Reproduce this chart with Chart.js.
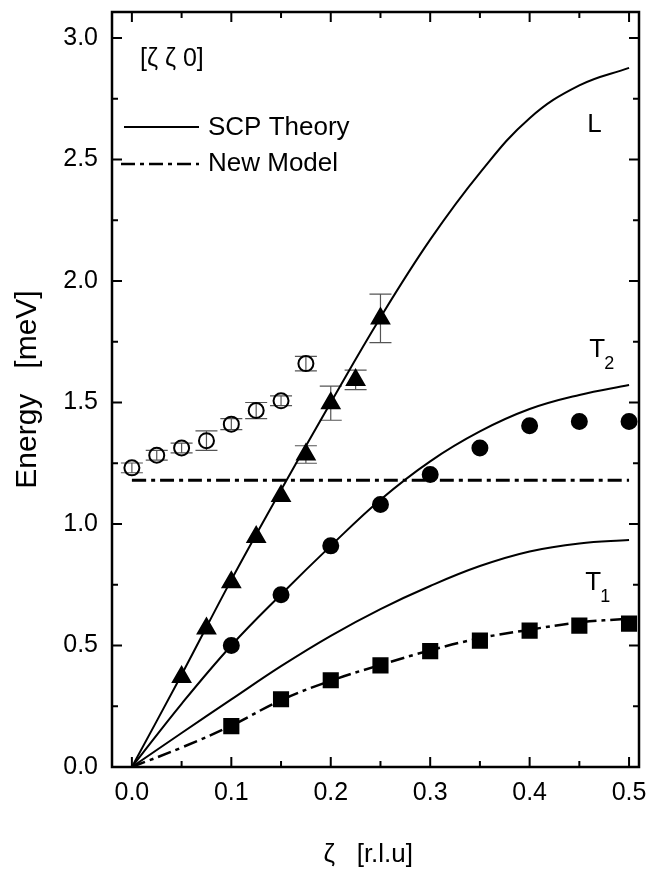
<!DOCTYPE html>
<html>
<head>
<meta charset="utf-8">
<script src="https://cdn.jsdelivr.net/npm/chart.js@4.4.0/dist/chart.umd.min.js"></script>
<style>
html, body { margin: 0; padding: 0; background: #fff; }
#wrap { width: 660px; height: 880px; position: relative; }
</style>
</head>
<body>
<div id="wrap"><canvas id="chart"></canvas></div>
<script>
// Theory curves (zeta in r.l.u, energy in meV)
const curveX = [0, 0.05, 0.1, 0.15, 0.2, 0.25, 0.3, 0.35, 0.4, 0.45, 0.5];
const scpL = [0, 0.38, 0.77, 1.14, 1.50, 1.85, 2.17, 2.445, 2.67, 2.805, 2.877];
const scpT2 = [0, 0.26, 0.50, 0.71, 0.91, 1.10, 1.258, 1.381, 1.473, 1.531, 1.572];
const scpT1 = [0, 0.14, 0.278, 0.415, 0.54, 0.65, 0.745, 0.827, 0.887, 0.92, 0.934];
const newT1 = [0, 0.08, 0.17, 0.275, 0.355, 0.42, 0.48, 0.53, 0.565, 0.595, 0.61];
const flatX = [0, 0.5];
const flatY = [1.18, 1.18];

// Measured points
const openX = [0, 0.025, 0.05, 0.075, 0.1, 0.125, 0.15, 0.175];
const openY = [1.231, 1.283, 1.313, 1.343, 1.411, 1.467, 1.507, 1.66];
const openErr = [0.02, 0.02, 0.02, 0.04, 0.023, 0.033, 0.02, 0.03];

const triX = [0.05, 0.075, 0.1, 0.125, 0.15, 0.175, 0.2, 0.225, 0.25];
const triY = [0.37, 0.57, 0.76, 0.947, 1.115, 1.286, 1.497, 1.593, 1.846];
const triErr = [0, 0, 0, 0, 0, 0.036, 0.07, 0.04, 0.1];

const dotX = [0.1, 0.15, 0.2, 0.25, 0.3, 0.35, 0.4, 0.45, 0.5];
const dotY = [0.5, 0.709, 0.91, 1.08, 1.204, 1.313, 1.404, 1.422, 1.422];

const sqX = [0.1, 0.15, 0.2, 0.25, 0.3, 0.35, 0.4, 0.45, 0.5];
const sqY = [0.168, 0.279, 0.357, 0.418, 0.477, 0.52, 0.561, 0.582, 0.59];

// Axis ticks
const xTicks = [0, 0.1, 0.2, 0.3, 0.4, 0.5];
const xMinor = [0.05, 0.15, 0.25, 0.35, 0.45];
const yTicks = [0, 0.5, 1.0, 1.5, 2.0, 2.5, 3.0];
const yMinor = [0.25, 0.75, 1.25, 1.75, 2.25, 2.75];

const FONT = "'Liberation Sans', Arial, sans-serif";
const dashDot = [14, 5, 4, 5];

function pts(xs, ys) {
    return xs.map((x, i) => ({ x: x, y: ys[i] }));
}

function curve(xs, ys, dash, width) {
    return {
        data: pts(xs, ys),
        showLine: true,
        borderColor: '#000',
        borderWidth: width,
        borderDash: dash,
        pointRadius: 0,
        tension: 0.4,
        fill: false
    };
}

function marks(xs, ys, style, radius, filled) {
    return {
        data: pts(xs, ys),
        showLine: false,
        pointStyle: style,
        pointRadius: radius,
        pointBorderWidth: 2,
        pointBorderColor: '#000',
        pointBackgroundColor: filled ? '#000' : 'rgba(0,0,0,0)'
    };
}

// Error bars, frame with inward ticks, legend and branch labels
const extras = {
    id: 'extras',
    beforeDatasetsDraw(chart) {
        const c = chart.ctx, xs = chart.scales.x, ys = chart.scales.y;
        c.save();
        c.strokeStyle = '#555';
        c.lineWidth = 1.2;
        const bars = (X, Y, E) => X.forEach((x, i) => {
            if (!E[i]) return;
            const px = xs.getPixelForValue(x);
            const top = ys.getPixelForValue(Y[i] + E[i]);
            const bot = ys.getPixelForValue(Y[i] - E[i]);
            c.beginPath();
            c.moveTo(px, top); c.lineTo(px, bot);
            c.moveTo(px - 11, top); c.lineTo(px + 11, top);
            c.moveTo(px - 11, bot); c.lineTo(px + 11, bot);
            c.stroke();
        });
        bars(openX, openY, openErr);
        bars(triX, triY, triErr);
        c.restore();
    },
    afterDraw(chart) {
        const c = chart.ctx, a = chart.chartArea, xs = chart.scales.x, ys = chart.scales.y;
        c.save();
        c.strokeStyle = '#000';
        c.lineWidth = 2.5;
        c.strokeRect(a.left, a.top, a.right - a.left, a.bottom - a.top);
        c.lineWidth = 2;
        c.beginPath();
        const tx = (v, len) => {
            const p = xs.getPixelForValue(v);
            c.moveTo(p, a.bottom); c.lineTo(p, a.bottom - len);
            c.moveTo(p, a.top); c.lineTo(p, a.top + len);
        };
        const ty = (v, len) => {
            const p = ys.getPixelForValue(v);
            c.moveTo(a.left, p); c.lineTo(a.left + len, p);
            c.moveTo(a.right, p); c.lineTo(a.right - len, p);
        };
        xTicks.forEach(v => tx(v, 10));
        xMinor.forEach(v => tx(v, 6));
        yTicks.forEach(v => ty(v, 10));
        yMinor.forEach(v => ty(v, 6));
        c.stroke();

        // legend
        c.fillStyle = '#000';
        c.font = '26px ' + FONT;
        c.textBaseline = 'middle';
        c.textAlign = 'left';
        c.lineWidth = 2;
        c.beginPath();
        c.moveTo(124, 127); c.lineTo(199, 127);
        c.stroke();
        c.fillText('SCP Theory', 208, 128);
        c.lineWidth = 2.5;
        c.setLineDash(dashDot);
        c.beginPath();
        c.moveTo(121, 164); c.lineTo(199, 164);
        c.stroke();
        c.setLineDash([]);
        c.fillText('New Model', 208, 164);

        c.font = '25px ' + FONT;
        c.fillText('[\u03B6 \u03B6 0]', 140, 59);

        // branch labels
        c.font = '26px ' + FONT;
        c.fillText('L', xs.getPixelForValue(0.458), ys.getPixelForValue(2.644));
        const sub = (txt, s, x, y) => {
            const px = xs.getPixelForValue(x), py = ys.getPixelForValue(y);
            c.font = '26px ' + FONT;
            c.fillText(txt, px, py);
            const w = c.measureText(txt).width;
            c.font = '18px ' + FONT;
            c.fillText(s, px + w - 1, py + 14);
        };
        sub('T', '2', 0.46, 1.717);
        sub('T', '1', 0.456, 0.758);
        c.restore();
    }
};

const ctx = document.getElementById('chart').getContext('2d');

const chart = new Chart(ctx, {
    type: 'scatter',
    data: {
        datasets: [
            curve(curveX, scpL, [], 2),
            curve(curveX, scpT2, [], 2),
            curve(curveX, scpT1, [], 2),
            curve(curveX, newT1, dashDot, 2.5),
            curve(flatX, flatY, dashDot, 3),
            marks(openX, openY, 'circle', 7.5, false),
            marks(triX, triY, 'triangle', 10, true),
            marks(dotX, dotY, 'circle', 7.5, true),
            marks(sqX, sqY, 'rect', 10, true)
        ]
    },
    options: {
        animation: false,
        responsive: true,
        maintainAspectRatio: false,
        layout: { padding: { top: 9, right: 21, left: 0, bottom: 0 } },
        plugins: {
            legend: { display: false },
            tooltip: { enabled: false }
        },
        scales: {
            x: {
                type: 'linear',
                min: -0.02,
                max: 0.51,
                grid: { display: false, drawTicks: false },
                border: { display: false },
                afterBuildTicks: s => { s.ticks = xTicks.map(v => ({ value: v })); },
                // fixed box so the plot area matches the original frame
                afterFit: s => { s.height = 113; s.paddingLeft = 0; s.paddingRight = 0; },
                ticks: {
                    color: '#000',
                    padding: 11,
                    maxRotation: 0,
                    font: { family: FONT, size: 25 },
                    callback: v => v.toFixed(1)
                },
                title: {
                    display: true,
                    text: '\u03B6   [r.l.u]  ',
                    color: '#000',
                    font: { family: FONT, size: 26 },
                    padding: { top: 0, bottom: 10 }
                }
            },
            y: {
                type: 'linear',
                min: 0,
                max: 3.107,
                grid: { display: false, drawTicks: false },
                border: { display: false },
                afterBuildTicks: s => { s.ticks = yTicks.map(v => ({ value: v })); },
                afterFit: s => { s.width = 112; s.paddingTop = 0; s.paddingBottom = 0; },
                ticks: {
                    color: '#000',
                    padding: 14,
                    font: { family: FONT, size: 25 },
                    callback: v => v.toFixed(1)
                },
                title: {
                    display: true,
                    text: 'Energy   [meV]',
                    color: '#000',
                    font: { family: FONT, size: 30 },
                    padding: { top: 10, bottom: 0 }
                }
            }
        }
    },
    plugins: [extras]
});
</script>
</body>
</html>
